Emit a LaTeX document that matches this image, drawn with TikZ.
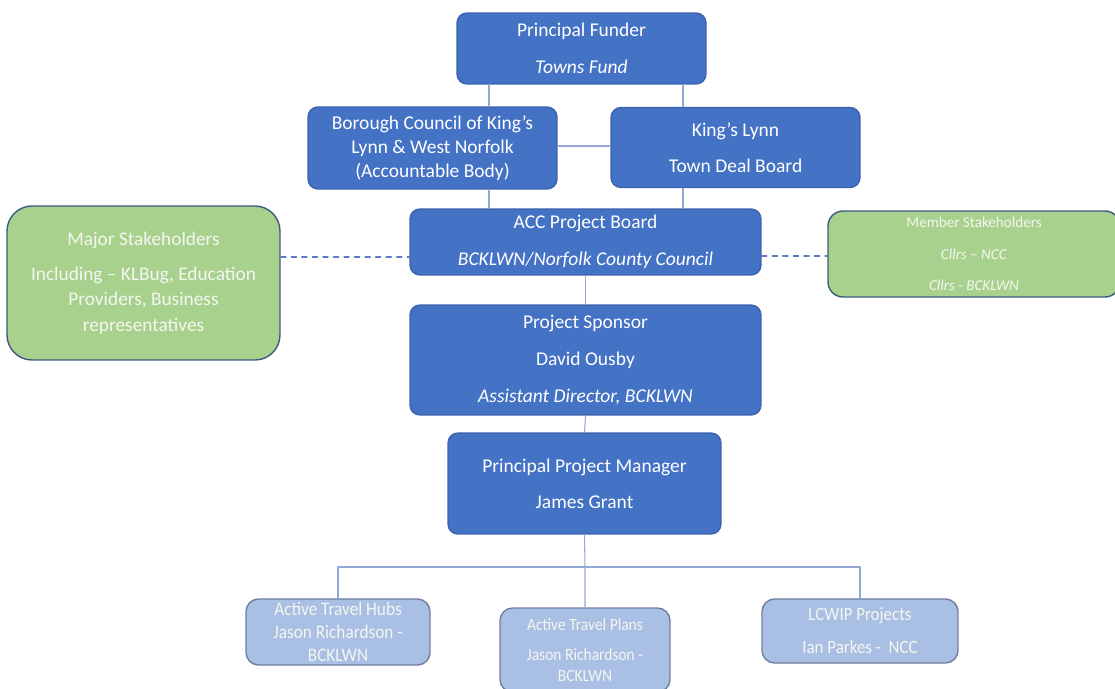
\documentclass[tikz,border=0pt]{standalone}
\usepackage{fontspec}
\setmainfont{Carlito}
\newfontfamily\narrowfont[FakeStretch=0.9]{Carlito}
\usetikzlibrary{calc}

\definecolor{boxblue}{HTML}{4472C4}
\definecolor{edgeblue}{HTML}{3A62AE}
\definecolor{paleblue}{HTML}{AABFE4}
\definecolor{paleedge}{HTML}{6F809F}
\definecolor{leafgreen}{HTML}{A9D18E}
\definecolor{greenedge}{HTML}{3D5A7E}
\definecolor{linkblue}{HTML}{93A8D6}
\definecolor{dashblue}{HTML}{5B7BC0}
\definecolor{softwhite}{HTML}{F4F7F0}

\begin{document}
\begin{tikzpicture}[
  x=0.02cm, y=-0.02cm,
  line cap=round,
  line join=round,
  darkbox/.style={draw=edgeblue, fill=boxblue, text=white, thick,
    rounded corners=0.2cm, inner sep=0pt, align=center,
    font=\fontsize{11.1}{13.6}\selectfont},
  greenbox/.style={draw=greenedge, fill=leafgreen, text=softwhite, thick,
    inner sep=0pt, align=center},
  palebox/.style={draw=paleedge, fill=paleblue, text=softwhite, thick,
    rounded corners=0.25cm, inner sep=0pt, align=center},
  link/.style={draw=linkblue, semithick},
  dashlink/.style={draw=dashblue, semithick, dashed}
]
\useasboundingbox (0,0) rectangle (1115,689);

% top of the chart
\node[darkbox, minimum width=4.98cm, minimum height=1.42cm] (funder) at (581.5,48.5)
  {Principal Funder\\[7.4pt]\textit{Towns Fund}};
\node[darkbox, minimum width=4.98cm, minimum height=1.64cm] (borough) at (432.5,148)
  {Borough Council of King’s\\Lynn \& West Norfolk\\(Accountable Body)};
\node[darkbox, minimum width=4.98cm, minimum height=1.6cm] (tdb) at (735.5,147.5)
  {King’s Lynn\\[6.8pt]Town Deal Board};
\node[darkbox, minimum width=7.02cm, minimum height=1.32cm] (acc) at (585.5,242)
  {ACC Project Board\\[7.4pt]\textit{BCKLWN/Norfolk County Council}};

% stakeholders either side
\node[greenbox, rounded corners=0.5cm, minimum width=5.46cm, minimum height=3.08cm,
  font=\fontsize{11}{14.5}\selectfont] (major) at (143.5,283)
  {Major Stakeholders\\[5.3pt]Including -- KLBug, Education\\Providers, Business\\representatives};
\node[greenbox, rounded corners=0.3cm, minimum width=5.84cm, minimum height=1.72cm,
  font=\fontsize{8.6}{10.5}\selectfont] (member) at (974,254)
  {Member Stakeholders\\[7.6pt]\textit{Cllrs -- NCC}\\[7.2pt]\textit{Cllrs - BCKLWN}};

% sponsor and manager
\node[darkbox, minimum width=7.02cm, minimum height=2.2cm] (sponsor) at (585.5,360)
  {Project Sponsor\\[7.4pt]David Ousby\\[7pt]\textit{Assistant Director, BCKLWN}};
\node[darkbox, minimum width=5.46cm, minimum height=2.02cm] (ppm) at (584.5,483.5)
  {Principal Project Manager\\[6.8pt]James Grant};

% projects
\node[palebox, minimum width=3.68cm, minimum height=1.32cm,
  font=\narrowfont\fontsize{10.9}{13}\selectfont] (hubs) at (338,632)
  {Active Travel Hubs\\Jason Richardson -\\BCKLWN};
\node[palebox, minimum width=3.4cm, minimum height=1.68cm,
  font=\narrowfont\fontsize{9.8}{11.9}\selectfont] (plans) at (585,650)
  {Active Travel Plans\\[5.7pt]Jason Richardson -\\BCKLWN};
\node[palebox, minimum width=3.92cm, minimum height=1.28cm,
  font=\narrowfont\fontsize{10.7}{12}\selectfont] (lcwip) at (860,631)
  {LCWIP Projects\\[6.7pt]Ian Parkes -\ \ NCC};

% connectors
\draw[link] (funder.south -| 489,0) -- (borough.north -| 489,0);
\draw[link] (funder.south -| 683,0) -- (tdb.north -| 683,0);
\draw[link] (borough.south -| 489,0) -- (acc.north -| 489,0);
\draw[link] (tdb.south -| 683,0) -- (acc.north -| 683,0);
\draw[link] (borough.east |- 0,146) -- (tdb.west |- 0,146);
\draw[link] (acc.south) -- (sponsor.north);
\draw[link] (sponsor.south) -- (ppm.north);
\coordinate (split) at (585,567);
\draw[link] (ppm.south) -- (split) -- (plans.north);
\draw[link] (hubs.north) |- (split) -| (lcwip.north);

\draw[dashlink] (major.east |- 0,257) -- (acc.west |- 0,257);
\draw[dashlink] (acc.east |- 0,256) -- (member.west |- 0,256);

\end{tikzpicture}
\end{document}
